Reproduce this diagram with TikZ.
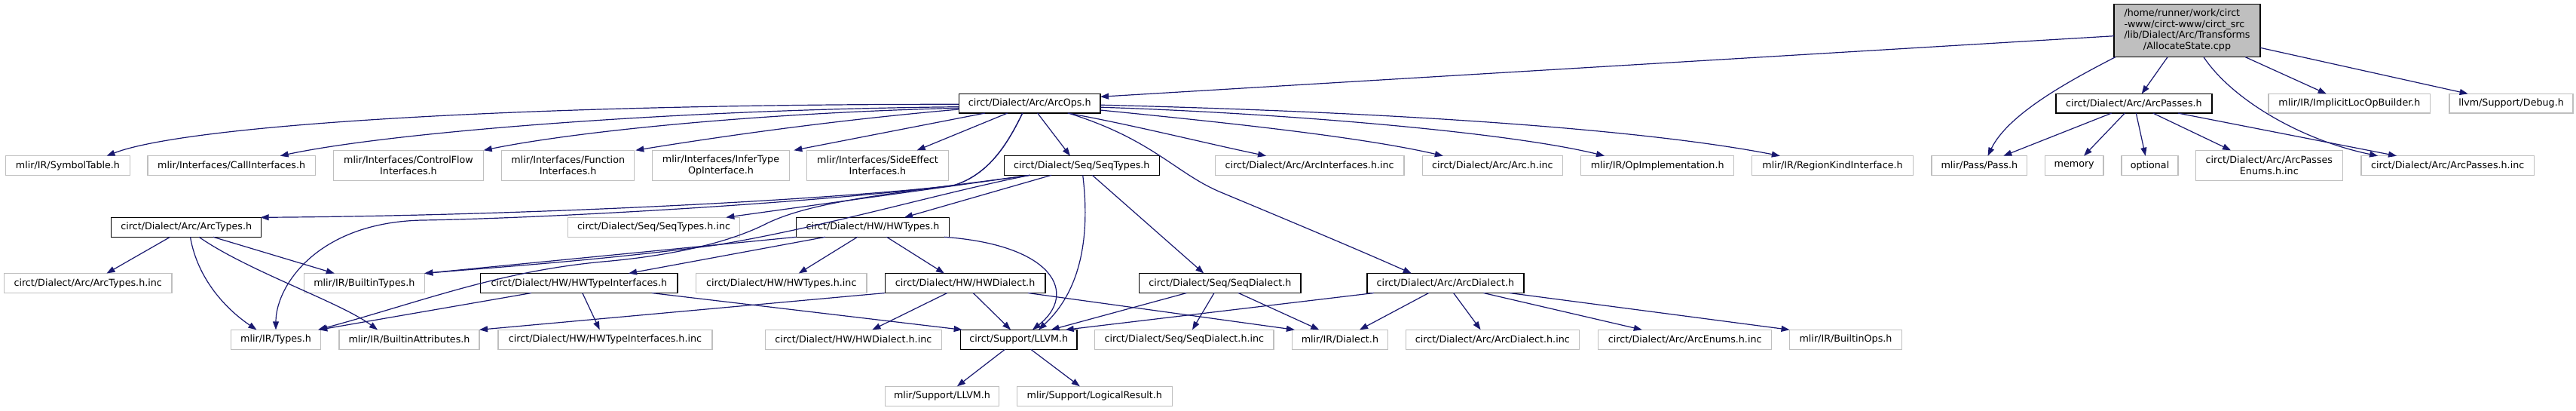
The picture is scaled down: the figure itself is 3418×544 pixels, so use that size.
\documentclass[tikz,border=0pt]{standalone}
\usepackage{fontspec}
\setmainfont{DejaVu Sans}
\usetikzlibrary{arrows.meta}
\definecolor{edgeblue}{HTML}{191970}
\definecolor{leafgray}{HTML}{BFBFBF}
\newcommand\nd[7]{\node[#7, minimum width=#4pt, minimum height=#5pt] (#1) at (#2,#3) {#6};}
\begin{document}
\begin{tikzpicture}[x=1pt,y=-1pt,
  box/.style={rectangle, inner sep=0pt, outer sep=0pt, align=center, font=\fontsize{12.7}{14.7}\selectfont, fill=white},
  leaf/.style={box, draw=leafgray, line width=1.3pt},
  doc/.style={box, draw=black, line width=1.5pt},
  rootnode/.style={box, draw=black, line width=1.5pt, fill=leafgray},
  dep/.style={draw=edgeblue, line width=1.2pt, -{Triangle[length=11pt,width=8pt]}}]
\fill[white] (0,0) rectangle (3418,544);
\useasboundingbox (0,0) rectangle (3418,544);
% row 0
\nd{R}{2902}{40.7}{194}{70}{\begin{tabular}{@{}l@{}}/home/runner/work/circt\\-www/circt-www/circt\_src\\/lib/Dialect/Arc/Transforms\\\multicolumn{1}{@{}c@{}}{/AllocateState.cpp}\end{tabular}}{rootnode}
% row 1
\nd{O}{1366.2}{137.2}{187.7}{25.7}{circt/Dialect/Arc/ArcOps.h}{doc}
\nd{P}{2831.4}{137.2}{207.3}{25.7}{circt/Dialect/Arc/ArcPasses.h}{doc}
\nd{IL}{3117.4}{137.2}{214.7}{25.7}{mlir/IR/ImplicitLocOpBuilder.h}{leaf}
\nd{D}{3332}{137.2}{164}{25.7}{llvm/Support/Debug.h}{leaf}
% row 2
\nd{ST}{90}{219.5}{164.5}{25.6}{mlir/IR/SymbolTable.h}{leaf}
\nd{CI}{307.2}{219.5}{222.6}{25.6}{mlir/Interfaces/CallInterfaces.h}{leaf}
\nd{CF}{542}{219.3}{199.4}{40}{mlir/Interfaces/ControlFlow\\Interfaces.h}{leaf}
\nd{FN}{753.7}{219.3}{176}{40}{mlir/Interfaces/Function\\Interfaces.h}{leaf}
\nd{IT}{956.5}{219.3}{181.6}{40}{mlir/Interfaces/InferType\\OpInterface.h}{leaf}
\nd{SE}{1164.5}{219.3}{187.6}{40}{mlir/Interfaces/SideEffect\\Interfaces.h}{leaf}
\nd{SQT}{1435.3}{219.5}{206}{25.6}{circt/Dialect/Seq/SeqTypes.h}{doc}
\nd{AI}{1737.6}{219.5}{250.5}{25.6}{circt/Dialect/Arc/ArcInterfaces.h.inc}{leaf}
\nd{AH}{1980.3}{219.5}{186}{25.6}{circt/Dialect/Arc/Arc.h.inc}{leaf}
\nd{OI}{2199.2}{219.5}{203}{25.6}{mlir/IR/OpImplementation.h}{leaf}
\nd{RK}{2431.5}{219.5}{214}{25.6}{mlir/IR/RegionKindInterface.h}{leaf}
\nd{PS}{2626.3}{219.5}{126.6}{25.6}{mlir/Pass/Pass.h}{leaf}
\nd{MEM}{2752.2}{219.5}{77.7}{25.6}{memory}{leaf}
\nd{OPT}{2852.5}{219.5}{75}{25.6}{optional}{leaf}
\nd{APE}{3010.8}{219.3}{195}{40}{circt/Dialect/Arc/ArcPasses\\Enums.h.inc}{leaf}
\nd{APH}{3247.7}{219.5}{229.5}{25.6}{circt/Dialect/Arc/ArcPasses.h.inc}{leaf}
% row 3
\nd{AT}{247.2}{301.3}{199}{26}{circt/Dialect/Arc/ArcTypes.h}{doc}
\nd{SQI}{867.5}{301.3}{227.5}{26}{circt/Dialect/Seq/SeqTypes.h.inc}{leaf}
\nd{HWT}{1158}{301.3}{202.6}{26}{circt/Dialect/HW/HWTypes.h}{doc}
% row 4
\nd{ATI}{116.7}{375.5}{222.6}{26}{circt/Dialect/Arc/ArcTypes.h.inc}{leaf}
\nd{BT}{483.3}{375.5}{160}{26}{mlir/IR/BuiltinTypes.h}{leaf}
\nd{HTI}{768.3}{375.5}{261.3}{26}{circt/Dialect/HW/HWTypeInterfaces.h}{doc}
\nd{HTIN}{1036.8}{375.5}{226.5}{26}{circt/Dialect/HW/HWTypes.h.inc}{leaf}
\nd{HWD}{1280.6}{375.5}{212.6}{26}{circt/Dialect/HW/HWDialect.h}{doc}
\nd{SQD}{1618.8}{375.5}{214.3}{26}{circt/Dialect/Seq/SeqDialect.h}{doc}
\nd{AD}{1917.9}{375.5}{208.2}{26}{circt/Dialect/Arc/ArcDialect.h}{doc}
% row 5
\nd{TY}{366}{450.3}{118.6}{26}{mlir/IR/Types.h}{leaf}
\nd{BA}{543}{450.3}{186}{26}{mlir/IR/BuiltinAttributes.h}{leaf}
\nd{HTII}{803}{450.3}{284}{26}{circt/Dialect/HW/HWTypeInterfaces.h.inc}{leaf}
\nd{HDI}{1132.3}{450.3}{234}{26}{circt/Dialect/HW/HWDialect.h.inc}{leaf}
\nd{SL}{1351.7}{450.3}{154.6}{26}{circt/Support/LLVM.h}{doc}
\nd{SDI}{1571.3}{450.3}{237.2}{26}{circt/Dialect/Seq/SeqDialect.h.inc}{leaf}
\nd{DI}{1777.9}{450.3}{127}{26}{mlir/IR/Dialect.h}{leaf}
\nd{ADI}{1980.3}{450.3}{230.3}{26}{circt/Dialect/Arc/ArcDialect.h.inc}{leaf}
\nd{AE}{2235.7}{450.3}{229.9}{26}{circt/Dialect/Arc/ArcEnums.h.inc}{leaf}
\nd{BO}{2449}{450.3}{149}{26}{mlir/IR/BuiltinOps.h}{leaf}
% row 6
\nd{ML}{1250}{525.3}{151.5}{26}{mlir/Support/LLVM.h}{leaf}
\nd{LR}{1452.3}{525.3}{205.8}{26}{mlir/Support/LogicalResult.h}{leaf}
% edges from root
\draw[dep] ([yshift=-7]R.west) -- ([yshift=8.9]O.east);
\draw[dep] ([xshift=-26]R.south) -- ([xshift=10.3]P.north);
\draw[dep] ([xshift=-95.3]R.south) .. controls (2750,105) and (2665,150) .. ([xshift=11.2]PS.north);
\draw[dep] ([xshift=22]R.south) .. controls (2960,130) and (3050,185) .. ([xshift=-92.7]APH.north);
\draw[dep] ([xshift=77.3]R.south) -- ([xshift=-30.7]IL.north);
\draw[dep] ([yshift=-22.6]R.east) -- ([xshift=-57.4]D.north);
% edges from ArcPasses
\draw[dep] ([xshift=-29.7]P.south) -- ([xshift=32]PS.north);
\draw[dep] ([xshift=-12.1]P.south) -- ([xshift=12.8]MEM.north);
\draw[dep] ([xshift=2.9]P.south) -- ([xshift=-5.8]OPT.north);
\draw[dep] ([xshift=25.3]P.south) -- ([xshift=-50.8]APE.north);
\draw[dep] ([xshift=58.6]P.south) -- ([xshift=-67.7]APH.north);
% edges from ArcOps
\draw[dep] ([yshift=-1.1]O.west) .. controls (700,138) and (250,165) .. ([xshift=51.5]ST.north);
\draw[dep] ([yshift=-4.5]O.west) .. controls (900,145) and (520,175) .. ([xshift=64.5]CI.north);
\draw[dep] ([yshift=-6.1]O.west) .. controls (1000,150) and (760,175) .. ([xshift=99.7]CF.north);
\draw[dep] ([yshift=-7.8]O.west) .. controls (1100,160) and (950,182) .. ([xshift=89.6]FN.north);
\draw[dep] ([xshift=-59.5]O.south) -- ([xshift=96.8]IT.north);
\draw[dep] ([xshift=-29.5]O.south) -- ([xshift=52.2]SE.north);
\draw[dep] ([xshift=10.5]O.south) -- ([xshift=-15.3]SQT.north);
\draw[dep] ([xshift=50.5]O.south) .. controls (1500,165) and (1600,190) .. ([xshift=-57.6]AI.north);
\draw[dep] ([yshift=-8.8]O.east) .. controls (1600,160) and (1800,180) .. ([xshift=-65.5]AH.north);
\draw[dep] ([yshift=-5]O.east) .. controls (1700,150) and (2000,175) .. ([xshift=-70.2]OI.north);
\draw[dep] ([yshift=-2]O.east) .. controls (1900,150) and (2200,175) .. ([xshift=-69.7]RK.north);
\draw[dep] ([xshift=-9.5]O.south) .. controls (1335,195) and (1310,232) .. (1265,246) .. controls (1100,265) and (700,286) .. ([xshift=-1]AT.north east);
\draw[dep] ([xshift=-9.5]O.south) .. controls (1335,195) and (1310,232) .. (1265,246) .. controls (1050,272) and (700,290) .. (560,292) .. controls (420,295) and (366,380) .. (TY.north);
\draw[dep] ([xshift=51.5]O.south) .. controls (1530,185) and (1560,230) .. (1620,255) .. controls (1680,280) and (1800,330) .. ([xshift=-45.1]AD.north);
% edges from SeqTypes
\draw[dep] ([xshift=-68.6]SQT.south) -- ([xshift=95.8]SQI.north);
\draw[dep] ([xshift=-40.3]SQT.south) -- ([xshift=42]HWT.north);
\draw[dep] ([xshift=-68.6]SQT.south) .. controls (1250,255) and (1100,300) .. (950,325) .. controls (800,345) and (650,355) .. (BT.north east);
\draw[dep] ([xshift=-68.6]SQT.south) .. controls (1200,255) and (1080,265) .. (1016,297) .. controls (960,325) and (880,340) .. (800,347) .. controls (660,360) and (560,400) .. ([xshift=56]TY.north);
\draw[dep] ([xshift=1.4]SQT.south) .. controls (1445,300) and (1440,380) .. ([xshift=26.3]SL.north);
\draw[dep] ([xshift=14]SQT.south) -- ([xshift=-21.5]SQD.north);
% edges from HWTypes
\draw[dep] (HWT.south west) -- (BT.north east);
\draw[dep] ([xshift=-63]HWT.south) -- ([xshift=65.7]HTI.north);
\draw[dep] ([xshift=-20.3]HWT.south) -- ([xshift=22.9]HTIN.north);
\draw[dep] ([xshift=18.5]HWT.south) -- ([xshift=-27.6]HWD.north);
\draw[dep] ([xshift=95]HWT.south) .. controls (1400,325) and (1430,390) .. ([xshift=18.3]SL.north);
% edges from ArcTypes
\draw[dep] ([xshift=-21.5]AT.south) -- ([xshift=24.8]ATI.north);
\draw[dep] ([xshift=35.8]AT.south) -- ([xshift=-39.5]BT.north);
\draw[dep] ([xshift=5.3]AT.south) .. controls (262,370) and (300,410) .. ([xshift=-25.5]TY.north);
\draw[dep] ([xshift=16.8]AT.south) .. controls (330,360) and (450,400) .. ([xshift=-42]BA.north);
% edges from HWTypeInterfaces
\draw[dep] ([xshift=-63.3]HTI.south) -- ([xshift=57.3]TY.north);
\draw[dep] ([xshift=4.5]HTI.south) -- ([xshift=-7.3]HTII.north);
\draw[dep] ([xshift=96.3]HTI.south) -- ([xshift=-75]SL.north);
% edges from HWDialect
\draw[dep] (HWD.south west) -- (BA.north east);
\draw[dep] ([xshift=-23.8]HWD.south) -- ([xshift=25.1]HDI.north);
\draw[dep] ([xshift=10.7]HWD.south) -- ([xshift=-10.7]SL.north);
\draw[dep] ([xshift=83.4]HWD.south) -- ([xshift=-60]DI.north);
% edges from SeqDialect
\draw[dep] ([xshift=-44.4]SQD.south) -- ([xshift=42.9]SL.north);
\draw[dep] ([xshift=-7.8]SQD.south) -- ([xshift=10.7]SDI.north);
\draw[dep] ([xshift=24.4]SQD.south) -- ([xshift=-27.6]DI.north);
% edges from ArcDialect
\draw[dep] ([xshift=-94.9]AD.south) -- ([xshift=62]SL.north);
\draw[dep] ([xshift=-22.2]AD.south) -- ([xshift=26.1]DI.north);
\draw[dep] ([xshift=10.7]AD.south) -- ([xshift=-15.7]ADI.north);
\draw[dep] ([xshift=50.5]AD.south) -- ([xshift=-56.9]AE.north);
\draw[dep] ([xshift=84.9]AD.south) -- (BO.north west);
% edges from circt/Support/LLVM.h
\draw[dep] ([xshift=-18.3]SL.south) -- ([xshift=19.9]ML.north);
\draw[dep] ([xshift=16.1]SL.south) -- ([xshift=-19.5]LR.north);
\end{tikzpicture}
\end{document}
